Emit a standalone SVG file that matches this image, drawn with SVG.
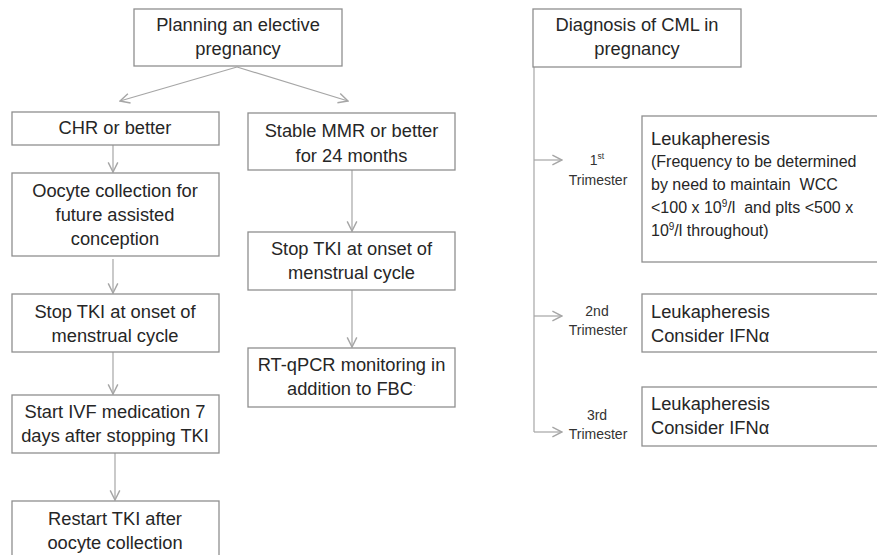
<svg xmlns="http://www.w3.org/2000/svg" width="877" height="555" viewBox="0 0 877 555">
<defs>
<style>
.box{fill:#fff;stroke:#8f8f8f;stroke-width:1.3}
.t{font-family:"Liberation Sans",Arial,sans-serif;font-size:18.3px;fill:#262626}
.c{text-anchor:middle}
.s{font-family:"Liberation Sans",Arial,sans-serif;font-size:14px;fill:#333;text-anchor:middle}
.m{font-family:"Liberation Sans",Arial,sans-serif;font-size:16px;fill:#262626;white-space:pre}
.ln{fill:none;stroke:#a6a6a6;stroke-width:1.2}
</style>
<marker id="ah" viewBox="0 0 10 10" refX="9" refY="5" markerWidth="12" markerHeight="12" markerUnits="userSpaceOnUse" orient="auto">
<polyline points="1,1 9,5 1,9" fill="none" stroke="#a6a6a6" stroke-width="1.2"/>
</marker>
</defs>
<rect width="877" height="555" fill="#fff"/>
<g id="connectors">
<line class="ln" x1="237" y1="67" x2="120" y2="101" marker-end="url(#ah)"/>
<line class="ln" x1="237" y1="67" x2="348" y2="101" marker-end="url(#ah)"/>
<line class="ln" x1="113" y1="145" x2="113" y2="172" marker-end="url(#ah)"/>
<line class="ln" x1="113" y1="259" x2="113" y2="293" marker-end="url(#ah)"/>
<line class="ln" x1="113" y1="352" x2="113" y2="394" marker-end="url(#ah)"/>
<line class="ln" x1="115" y1="453" x2="115" y2="500" marker-end="url(#ah)"/>
<line class="ln" x1="352" y1="170" x2="352" y2="231" marker-end="url(#ah)"/>
<line class="ln" x1="352" y1="290" x2="352" y2="347" marker-end="url(#ah)"/>
<polyline class="ln" points="534,38 534,432"/>
<line class="ln" x1="534" y1="160" x2="562" y2="160" marker-end="url(#ah)"/>
<line class="ln" x1="534" y1="316" x2="562" y2="316" marker-end="url(#ah)"/>
<line class="ln" x1="534" y1="432" x2="562" y2="432" marker-end="url(#ah)"/>
</g>
<g id="planning">
<rect class="box" x="134" y="9" width="208" height="57"/>
<text class="t c" x="238" y="31">Planning an elective</text>
<text class="t c" x="238" y="55">pregnancy</text>
</g>
<g id="chr">
<rect class="box" x="12" y="112" width="207" height="33"/>
<text class="t c" x="115" y="134">CHR or better</text>
</g>
<g id="oocyte">
<rect class="box" x="12" y="173" width="207" height="83"/>
<text class="t c" x="115" y="197">Oocyte collection for</text>
<text class="t c" x="115" y="221">future assisted</text>
<text class="t c" x="115" y="245">conception</text>
</g>
<g id="stop-left">
<rect class="box" x="12" y="294" width="207" height="58"/>
<text class="t c" x="115" y="318">Stop TKI at onset of</text>
<text class="t c" x="115" y="342">menstrual cycle</text>
</g>
<g id="ivf">
<rect class="box" x="12" y="395" width="207" height="58"/>
<text class="t c" x="115" y="418">Start IVF medication 7</text>
<text class="t c" x="115" y="442">days after stopping TKI</text>
</g>
<g id="restart">
<rect class="box" x="12" y="501" width="207" height="70"/>
<text class="t c" x="115" y="525">Restart TKI after</text>
<text class="t c" x="115" y="549">oocyte collection</text>
</g>
<g id="mmr">
<rect class="box" x="248" y="113" width="207" height="57"/>
<text class="t c" x="351.5" y="137">Stable MMR or better</text>
<text class="t c" x="351.5" y="162">for 24 months</text>
</g>
<g id="stop-right">
<rect class="box" x="248" y="232" width="207" height="58"/>
<text class="t c" x="351.5" y="255">Stop TKI at onset of</text>
<text class="t c" x="351.5" y="279">menstrual cycle</text>
</g>
<g id="rtqpcr">
<rect class="box" x="248" y="348" width="207" height="59"/>
<text class="t c" x="351.5" y="371">RT-qPCR monitoring in</text>
<text class="t c" x="351.5" y="395">addition to FBC<tspan font-size="9" dy="-7">·</tspan></text>
</g>
<g id="diagnosis">
<rect class="box" x="533" y="9" width="208" height="58"/>
<text class="t c" x="637" y="31">Diagnosis of CML in</text>
<text class="t c" x="637" y="55">pregnancy</text>
</g>
<g id="tri1">
<text class="s" x="597" y="165">1<tspan font-size="8.5" dy="-6">st</tspan></text>
<text class="s" x="598" y="185">Trimester</text>
</g>
<g id="leuk1">
<rect class="box" x="642" y="116" width="240" height="146"/>
<text class="t" x="651" y="145">Leukapheresis</text>
<text class="m" x="651" y="167">(Frequency to be determined</text>
<text class="m" x="651" y="190">by need to maintain  WCC</text>
<text class="m" x="651" y="213">&lt;100 x 10<tspan font-size="10" dy="-6">9</tspan><tspan dy="6">/l  and plts &lt;500 x</tspan></text>
<text class="m" x="651" y="236">10<tspan font-size="10" dy="-6">9</tspan><tspan dy="6">/l throughout)</tspan></text>
</g>
<g id="tri2">
<text class="s" x="597" y="316">2nd</text>
<text class="s" x="598" y="335">Trimester</text>
</g>
<g id="leuk2">
<rect class="box" x="642" y="294" width="240" height="58"/>
<text class="t" x="651" y="318">Leukapheresis</text>
<text class="t" x="651" y="342">Consider IFNα</text>
</g>
<g id="tri3">
<text class="s" x="597" y="420">3rd</text>
<text class="s" x="598" y="439">Trimester</text>
</g>
<g id="leuk3">
<rect class="box" x="642" y="387" width="240" height="59"/>
<text class="t" x="651" y="410">Leukapheresis</text>
<text class="t" x="651" y="434">Consider IFNα</text>
</g>
</svg>
